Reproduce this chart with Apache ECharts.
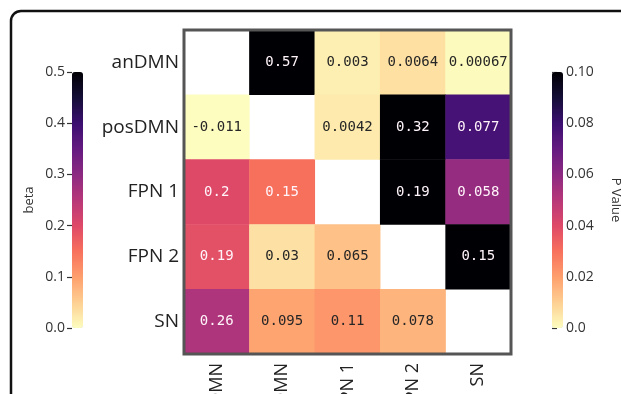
<!DOCTYPE html>
<html>
<head>
<meta charset="utf-8">
<script src="https://cdn.jsdelivr.net/npm/echarts@6/dist/echarts.min.js"></script>
<style>
  html, body { margin: 0; padding: 0; background: #fff; }
  #chart { width: 621px; height: 394px; }
</style>
</head>
<body>
<div id="chart"></div>
<script>
// Network names (rows top-to-bottom, columns left-to-right)
const networks = ['anDMN', 'posDMN', 'FPN 1', 'FPN 2', 'SN'];

// Lower triangle: beta coefficients, row by row (columns 0 .. row-1)
const betaRows = [
  [],
  [-0.011],
  [0.2, 0.15],
  [0.19, 0.03, 0.065],
  [0.26, 0.095, 0.11, 0.078]
];

// Upper triangle: p values, row by row (columns row+1 .. 4)
const pRows = [
  [0.57, 0.003, 0.0064, 0.00067],
  [0.0042, 0.32, 0.077],
  [0.19, 0.058],
  [0.15],
  []
];

// Colour bar ranges and ticks
const betaRange = [0, 0.5];
const betaTickStep = 0.1;
const pRange = [0, 0.1];
const pTickStep = 0.02;

// magma, reversed (light for low, dark for high)
const magmaReversed = [
  '#fcfdbf', '#fecf92', '#fe9f6d', '#f7705c', '#de4968', '#b73779',
  '#8c2981', '#641a80', '#3b0f70', '#140e36', '#000004'
];

function clamp(v, lo, hi) { return Math.min(hi, Math.max(lo, v)); }

function buildCells(rows, range, lower) {
  const cells = [];
  rows.forEach((vals, r) => {
    vals.forEach((v, k) => {
      const c = lower ? k : r + 1 + k;
      const cv = clamp(v, range[0], range[1]);
      const t = (cv - range[0]) / (range[1] - range[0]);
      cells.push({
        value: [c, r, v, cv],
        label: { color: t >= 0.25 ? '#fff4fa' : '#262626' }
      });
    });
  });
  return cells;
}

const betaCells = buildCells(betaRows, betaRange, true);
const pCells = buildCells(pRows, pRange, false);

const chart = echarts.init(document.getElementById('chart'), null, { renderer: 'canvas' });

const cellLabel = {
  show: true,
  fontFamily: 'DejaVu Sans Mono',
  fontSize: 14,
  formatter: p => String(p.value[2])
};

const tickLabelStyle = { fontFamily: 'Open Sans', fontSize: 14, color: '#333' };

chart.setOption({
  backgroundColor: '#ffffff',
  animation: false,
  graphic: [{
    type: 'rect',
    silent: true,
    z: -10,
    shape: { x: 11, y: 11, width: 700, height: 500, r: 10 },
    style: { fill: 'none', stroke: '#111', lineWidth: 2.5 }
  }],
  grid: [
    { left: 184, top: 30, width: 327, height: 324, show: true, z: 10, outerBoundsMode: 'none',
      containLabel: false, backgroundColor: 'transparent', borderColor: '#555', borderWidth: 3 },
    { left: 72, top: 72, width: 11, height: 256, outerBoundsMode: 'none', containLabel: false },
    { left: 552, top: 72, width: 11, height: 256, outerBoundsMode: 'none', containLabel: false }
  ],
  xAxis: [
    { gridIndex: 0, type: 'category', data: networks, position: 'bottom',
      axisLine: { show: false }, axisTick: { show: false }, splitLine: { show: false },
      axisLabel: { rotate: 90, margin: 9, fontFamily: 'Open Sans', fontSize: 18, color: '#222' } },
    { gridIndex: 1, type: 'value', show: false },
    { gridIndex: 2, type: 'value', show: false }
  ],
  yAxis: [
    { gridIndex: 0, type: 'category', data: networks, inverse: true,
      axisLine: { show: false }, axisTick: { show: false }, splitLine: { show: false },
      axisLabel: { margin: 5, fontFamily: 'Open Sans', fontSize: 19, color: '#222' } },
    { gridIndex: 1, type: 'value', min: betaRange[0], max: betaRange[1], interval: betaTickStep,
      position: 'left', offset: 1, axisLine: { show: false }, splitLine: { show: false },
      axisTick: { show: true, length: 5, lineStyle: { color: '#333', width: 1.2 } },
      axisLabel: Object.assign({ margin: 6, formatter: v => v.toFixed(1) }, tickLabelStyle),
      name: 'beta', nameLocation: 'middle', nameRotate: 90, nameGap: 35,
      nameTextStyle: { fontFamily: 'Open Sans', fontSize: 13, color: '#333' } },
    { gridIndex: 2, type: 'value', min: pRange[0], max: pRange[1], interval: pTickStep,
      position: 'right', axisLine: { show: false }, splitLine: { show: false },
      axisTick: { show: true, length: 5, lineStyle: { color: '#333', width: 1.2 } },
      axisLabel: Object.assign({ margin: 3, formatter: v => (v === 0 ? '0.0' : v.toFixed(2)) }, tickLabelStyle),
      name: 'P Value', nameLocation: 'middle', nameRotate: -90, nameGap: 46,
      nameTextStyle: { fontFamily: 'Open Sans', fontSize: 13, color: '#333' } }
  ],
  visualMap: [
    { type: 'continuous', seriesIndex: 0, dimension: 3, min: betaRange[0], max: betaRange[1],
      calculable: false, hoverLink: false, orient: 'vertical', left: 67, top: 67, padding: 5,
      itemWidth: 11, itemHeight: 256, inRange: { color: magmaReversed } },
    { type: 'continuous', seriesIndex: 1, dimension: 3, min: pRange[0], max: pRange[1],
      calculable: false, hoverLink: false, orient: 'vertical', left: 547, top: 67, padding: 5,
      itemWidth: 11, itemHeight: 256, inRange: { color: magmaReversed } }
  ],
  series: [
    { name: 'beta', type: 'heatmap', xAxisIndex: 0, yAxisIndex: 0, data: betaCells, label: cellLabel },
    { name: 'P Value', type: 'heatmap', xAxisIndex: 0, yAxisIndex: 0, data: pCells, label: cellLabel }
  ]
});
</script>
</body>
</html>
